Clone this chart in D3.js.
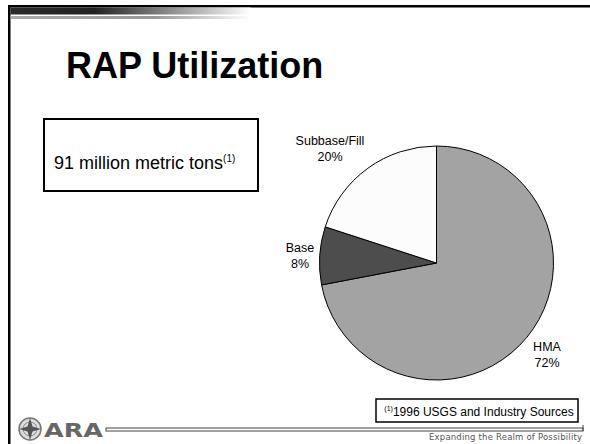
<!DOCTYPE html>
<html><head><meta charset="utf-8">
<script src="https://cdn.jsdelivr.net/npm/d3@7"></script>
<style>html,body{margin:0;padding:0;background:#fff;}svg{display:block;}</style>
</head><body>
<script>
const categories = ["HMA", "Base", "Subbase/Fill"];
const values = [72, 8, 20];
const colors = ["#a3a3a3", "#4d4d4d", "#fcfcfc"];
const pctLabels = ["72%", "8%", "20%"];
const title = "RAP Utilization";
const boxText = "91 million metric tons";
const footText = "1996 USGS and Industry Sources";
const tagline = "Expanding the Realm of Possibility";

const W = 590, H = 444;
const svg = d3.select("body").append("svg").attr("width", W).attr("height", H);
const defs = svg.append("defs");
const g1 = defs.append("linearGradient").attr("id", "band").attr("x1", "0").attr("x2", "1");
g1.append("stop").attr("offset", "0").attr("stop-color", "#2a2a2a");
g1.append("stop").attr("offset", "0.35").attr("stop-color", "#222");
g1.append("stop").attr("offset", "0.6").attr("stop-color", "#777");
g1.append("stop").attr("offset", "1").attr("stop-color", "#fff");
const g2 = defs.append("linearGradient").attr("id", "band2").attr("x1", "0").attr("x2", "1");
g2.append("stop").attr("offset", "0").attr("stop-color", "#aaa");
g2.append("stop").attr("offset", "0.6").attr("stop-color", "#999");
g2.append("stop").attr("offset", "1").attr("stop-color", "#fff");

// frame
svg.append("rect").attr("x", 8).attr("y", 5).attr("width", W - 8).attr("height", 2.5).attr("fill", "#000");
svg.append("rect").attr("x", 8).attr("y", 5).attr("width", 2.5).attr("height", H - 5).attr("fill", "#000");
svg.append("rect").attr("x", 10.5).attr("y", 7.5).attr("width", 240).attr("height", 7).attr("fill", "url(#band)");
svg.append("rect").attr("x", 10.5).attr("y", 16).attr("width", 240).attr("height", 3).attr("fill", "url(#band2)");

// title
svg.append("text").attr("x", 66).attr("y", 78).attr("font-family", "Liberation Sans, Arial, sans-serif")
  .attr("font-weight", "bold").attr("font-size", 36).attr("fill", "#000").text(title);

// left box
svg.append("rect").attr("x", 44).attr("y", 119).attr("width", 214).attr("height", 72)
  .attr("fill", "#fff").attr("stroke", "#000").attr("stroke-width", 2);
const bt = svg.append("text").attr("x", 54).attr("y", 169).attr("font-family", "Liberation Sans, Arial, sans-serif")
  .attr("font-size", 18).attr("fill", "#000");
bt.append("tspan").text(boxText);
bt.append("tspan").attr("font-size", 10).attr("dy", -7).text("(1)");

// pie
const cx = 436.5, cy = 263, R = 117;
const pie = d3.pie().sort(null).value(d => d)(values);
const arc = d3.arc().innerRadius(0).outerRadius(R);
const pg = svg.append("g").attr("transform", `translate(${cx},${cy})`);
pg.selectAll("path").data(pie).join("path").attr("d", arc)
  .attr("fill", (d, i) => colors[i]).attr("stroke", "#000").attr("stroke-width", 1);

const labelPos = [[547, 351], [300, 252], [330, 145]];
categories.forEach((c, i) => {
  const t = svg.append("text").attr("text-anchor", "middle").attr("font-family", "Liberation Sans, Arial, sans-serif")
    .attr("font-size", 12.5).attr("fill", "#000");
  t.append("tspan").attr("x", labelPos[i][0]).attr("y", labelPos[i][1]).text(c);
  t.append("tspan").attr("x", labelPos[i][0]).attr("y", labelPos[i][1] + 16).text(pctLabels[i]);
});

// footnote box
svg.append("rect").attr("x", 376).attr("y", 399).attr("width", 202).attr("height", 23)
  .attr("fill", "#fff").attr("stroke", "#000").attr("stroke-width", 1.5);
const ft = svg.append("text").attr("x", 479).attr("y", 416).attr("text-anchor", "middle")
  .attr("font-family", "Liberation Sans, Arial, sans-serif").attr("font-size", 12).attr("fill", "#000");
ft.append("tspan").attr("font-size", 7).attr("dy", -5).text("(1)");
ft.append("tspan").attr("dy", 5).text(footText);

// bottom double line
svg.append("rect").attr("x", 106).attr("y", 428).attr("width", 477).attr("height", 3)
  .attr("fill", "#fff").attr("stroke", "#444").attr("stroke-width", 1);
svg.append("line").attr("x1", 583).attr("x2", 583).attr("y1", 425).attr("y2", 431).attr("stroke", "#444").attr("stroke-width", 1);
svg.append("text").attr("x", 582).attr("y", 440).attr("text-anchor", "end")
  .attr("font-family", "DejaVu Sans, sans-serif").attr("font-size", 8.5).attr("fill", "#555")
  .attr("textLength", 153).text(tagline);

// logo
const lg = svg.append("g").attr("transform", "translate(30,429)");
lg.append("circle").attr("r", 11).attr("fill", "#ddd").attr("stroke", "#777").attr("stroke-width", 1.5);
lg.append("circle").attr("r", 7).attr("fill", "none").attr("stroke", "#888").attr("stroke-width", 1);
lg.append("path").attr("d", "M0,-11 L2.5,-2.5 L11,0 L2.5,2.5 L0,11 L-2.5,2.5 L-11,0 L-2.5,-2.5 Z").attr("fill", "#555");
svg.append("text").attr("x", 44).attr("y", 437).attr("font-family", "DejaVu Sans, sans-serif")
  .attr("font-weight", "bold").attr("font-size", 20).attr("fill", "#666").attr("textLength", 59)
  .attr("lengthAdjust", "spacingAndGlyphs").text("ARA");
</script>
</body></html>
